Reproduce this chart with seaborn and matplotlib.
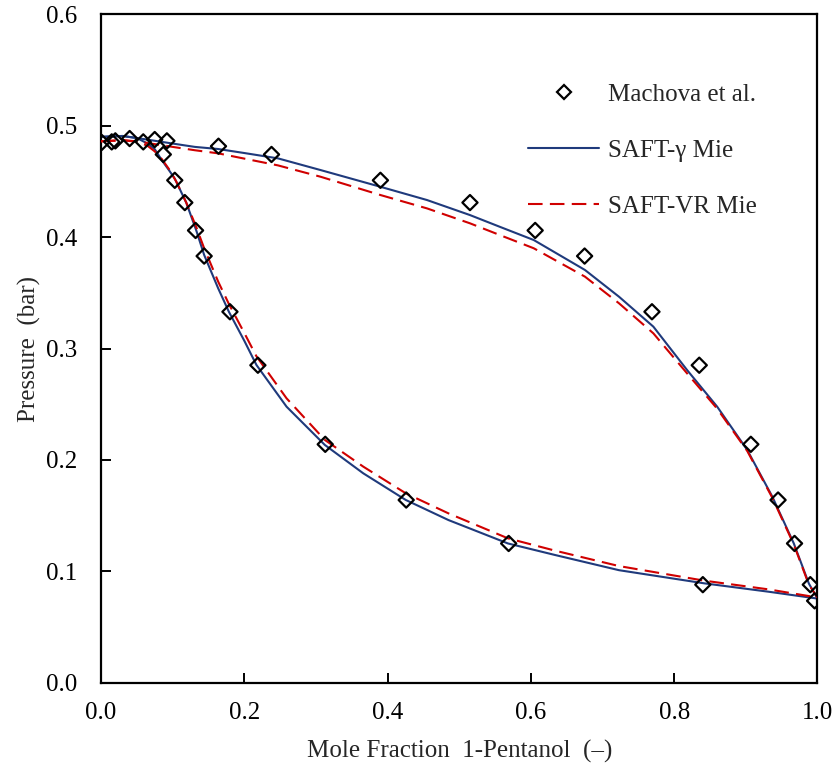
import numpy as np
import pandas as pd
import matplotlib
matplotlib.use("Agg")
import matplotlib.pyplot as plt
from matplotlib.lines import Line2D
import seaborn as sns

# ---------------- data ----------------
# Experimental points (Machova et al.)
exp_x = [0.001, 0.015, 0.020, 0.040, 0.059, 0.075, 0.092, 0.087, 0.164, 0.238,
         0.103, 0.117, 0.132, 0.144, 0.180, 0.219, 0.313, 0.426, 0.569, 0.840, 0.996,
         0.390, 0.515, 0.606, 0.675, 0.769, 0.835, 0.907, 0.945, 0.968, 0.990]
exp_p = [0.485, 0.4855, 0.4864, 0.4885, 0.4855, 0.4876, 0.4864, 0.4742, 0.4816, 0.4742,
         0.451, 0.431, 0.406, 0.383, 0.333, 0.285, 0.214, 0.164, 0.125, 0.088, 0.0735,
         0.451, 0.431, 0.406, 0.383, 0.333, 0.285, 0.214, 0.164, 0.125, 0.088]

# SAFT-gamma Mie: bubble (liquid) branch
gam_liq_x = [0.0, 0.03, 0.05, 0.065, 0.075, 0.085, 0.095, 0.103, 0.119, 0.133, 0.144,
             0.1636, 0.1785, 0.20, 0.217, 0.259, 0.3125, 0.366, 0.4255, 0.485,
             0.568, 0.634, 0.723, 0.842, 0.9315, 1.0]
gam_liq_p = [0.490, 0.4908, 0.489, 0.484, 0.479, 0.469, 0.460, 0.4525, 0.431, 0.406, 0.384,
             0.354, 0.333, 0.307, 0.2852, 0.2478, 0.2134, 0.188, 0.164, 0.146,
             0.125, 0.1146, 0.101, 0.0892, 0.0817, 0.0755]
# SAFT-gamma Mie: dew (vapour) branch
gam_vap_x = [0.0, 0.03, 0.06, 0.10, 0.131, 0.1636, 0.20, 0.247, 0.3065, 0.390, 0.455,
             0.515, 0.5565, 0.604, 0.6755, 0.723, 0.771, 0.818, 0.860, 0.902,
             0.937, 0.967, 0.988, 1.0]
gam_vap_p = [0.490, 0.4908, 0.488, 0.484, 0.481, 0.4791, 0.4755, 0.4707, 0.4602, 0.4452, 0.4333,
             0.4198, 0.4093, 0.3974, 0.3705, 0.3465, 0.3196, 0.2807, 0.2478, 0.2089,
             0.167, 0.125, 0.089, 0.0755]

# SAFT-VR Mie: bubble (liquid) branch
vr_liq_x = [0.0, 0.03, 0.05, 0.065, 0.075, 0.085, 0.095, 0.105, 0.119, 0.133, 0.144,
            0.1636, 0.1785, 0.20, 0.217, 0.259, 0.3125, 0.366, 0.4255, 0.485,
            0.568, 0.634, 0.723, 0.842, 0.9315, 1.0]
vr_liq_p = [0.486, 0.487, 0.486, 0.482, 0.477, 0.470, 0.461, 0.450, 0.431, 0.409, 0.390,
            0.360, 0.340, 0.314, 0.293, 0.2553, 0.2179, 0.194, 0.170, 0.152,
            0.1296, 0.1185, 0.1047, 0.0916, 0.0838, 0.0765]
# SAFT-VR Mie: dew (vapour) branch
vr_vap_x = [0.0, 0.03, 0.06, 0.10, 0.131, 0.1636, 0.247, 0.3065, 0.390, 0.455,
            0.515, 0.5565, 0.604, 0.6755, 0.723, 0.771, 0.818, 0.860, 0.902,
            0.937, 0.967, 0.988, 1.0]
vr_vap_p = [0.486, 0.487, 0.485, 0.481, 0.478, 0.4752, 0.4644, 0.4542, 0.4378, 0.4258,
            0.4124, 0.4019, 0.390, 0.3645, 0.3406, 0.3136, 0.2777, 0.246, 0.208,
            0.166, 0.124, 0.088, 0.0765]

x_ticks = [0.0, 0.2, 0.4, 0.6, 0.8, 1.0]
y_ticks = [0.0, 0.1, 0.2, 0.3, 0.4, 0.5, 0.6]
labels = ["Machova et al.", "SAFT-\u03b3 Mie", "SAFT-VR Mie"]
x_label = "Mole Fraction  1-Pentanol  (\u2013)"
y_label = "Pressure  (bar)"

# ---------------- plot ----------------
sns.set_theme(style="ticks")
plt.rcParams["font.family"] = ["Liberation Serif", "DejaVu Serif"]

BLUE = "#1F3A7C"
RED = "#D00000"
FS = 18
DASH = (0, (7, 3.5))

fig = plt.figure(figsize=(8.38, 7.75), dpi=100)
ax = fig.add_axes([0.1205, 0.1191, 0.8550, 0.8624])

gam_df = pd.concat([
    pd.DataFrame({"x": gam_liq_x, "p": gam_liq_p, "branch": "liq"}),
    pd.DataFrame({"x": gam_vap_x, "p": gam_vap_p, "branch": "vap"}),
], ignore_index=True)
vr_df = pd.concat([
    pd.DataFrame({"x": vr_liq_x, "p": vr_liq_p, "branch": "liq"}),
    pd.DataFrame({"x": vr_vap_x, "p": vr_vap_p, "branch": "vap"}),
], ignore_index=True)
exp_df = pd.DataFrame({"x": exp_x, "p": exp_p})

sns.lineplot(data=gam_df, x="x", y="p", units="branch", estimator=None, sort=False,
             color=BLUE, linewidth=1.5, ax=ax, zorder=2)
sns.lineplot(data=vr_df, x="x", y="p", units="branch", estimator=None, sort=False,
             color=RED, linewidth=1.5, linestyle=DASH, ax=ax, zorder=3)
sns.scatterplot(data=exp_df, x="x", y="p", marker="D", s=60, facecolor="none",
                edgecolor="black", linewidth=1.6, ax=ax, zorder=4)

ax.set_xlim(0, 1)
ax.set_ylim(0, 0.6)
ax.set_xticks(x_ticks)
ax.set_yticks(y_ticks)
ax.set_xticklabels([f"{v:.1f}" for v in x_ticks])
ax.set_yticklabels([f"{v:.1f}" for v in y_ticks])
ax.tick_params(axis="both", direction="in", length=7, width=1.4, labelsize=FS,
               colors="black")
ax.tick_params(axis="x", pad=14)
ax.tick_params(axis="y", pad=17)
for sp in ax.spines.values():
    sp.set_visible(True)
    sp.set_linewidth(1.6)
    sp.set_color("black")

ax.set_xlabel(x_label, fontsize=FS, labelpad=11)
ax.set_ylabel(y_label, fontsize=FS, labelpad=4)

handles = [
    Line2D([], [], marker="D", linestyle="none", markersize=7, markerfacecolor="white",
           markeredgecolor="black", markeredgewidth=1.6),
    Line2D([], [], color=BLUE, linewidth=1.5),
    Line2D([], [], color=RED, linewidth=1.5, linestyle=DASH),
]
leg = ax.legend(handles, labels, loc="upper left", bbox_to_anchor=(0.630, 0.892),
                bbox_transform=fig.transFigure, frameon=False, fontsize=FS,
                handlelength=2.85, handletextpad=0.35, labelspacing=1.33,
                borderpad=0, borderaxespad=0, numpoints=1)

fig.savefig("out.png", dpi=100)
